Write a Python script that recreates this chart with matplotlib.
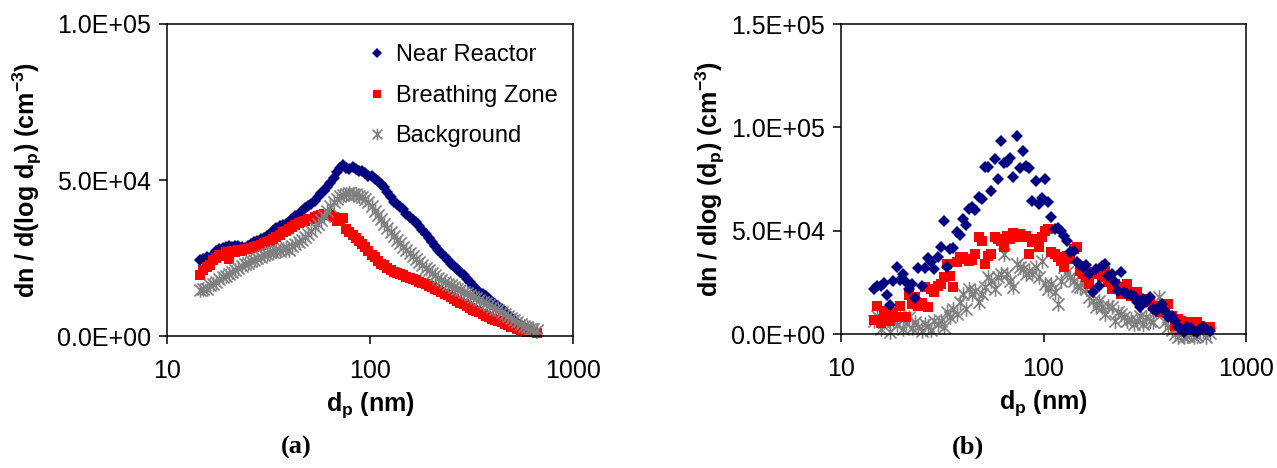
import numpy as np
import matplotlib
matplotlib.use("Agg")
import matplotlib.pyplot as plt
from matplotlib.path import Path
from matplotlib.ticker import FixedLocator, FuncFormatter, NullLocator

plt.rcParams['font.family'] = ['Liberation Sans', 'DejaVu Sans']
plt.rcParams['mathtext.fontset'] = 'custom'
plt.rcParams['mathtext.rm'] = 'Liberation Sans'
plt.rcParams['mathtext.bf'] = 'Liberation Sans:bold'
plt.rcParams['mathtext.it'] = 'Liberation Sans:italic'
plt.rcParams['mathtext.default'] = 'bf'

# particle diameter channels (nm)
dp = [14.6, 15.1, 15.7, 16.3, 16.8, 17.5, 18.1, 18.8, 19.5, 20.2,
      20.9, 21.7, 22.5, 23.3, 24.1, 25.0, 25.9, 26.9, 27.9, 28.9,
      30.0, 31.1, 32.2, 33.4, 34.6, 35.9, 37.2, 38.5, 40.0, 41.4,
      42.9, 44.5, 46.1, 47.8, 49.6, 51.4, 53.3, 55.2, 57.3, 59.4,
      61.5, 63.8, 66.1, 68.5, 71.0, 73.7, 76.4, 79.1, 82.0, 85.1,
      88.2, 91.4, 94.7, 98.2, 101.8, 105.5, 109.4, 113.4, 117.6, 121.9,
      126.3, 131.0, 135.8, 140.7, 145.9, 151.2, 156.8, 162.5, 168.5, 174.7,
      181.1, 187.7, 194.6, 201.7, 209.1, 216.7, 224.7, 232.9, 241.4, 250.3,
      259.5, 269.0, 278.8, 289.0, 299.6, 310.6, 322.0, 333.8, 346.0, 358.7,
      371.8, 385.4, 399.5, 414.2, 429.4, 445.1, 461.4, 478.3, 495.8, 514.0,
      532.8, 552.3, 572.5, 593.5, 615.3, 637.8, 661.2]

# panel (a) values, thousands of particles / cm3
near_a = [24.2, 24.8, 25.4, 25.0, 26.0, 27.4, 27.8, 28.2, 28.6, 28.8,
          28.6, 29.0, 28.8, 28.4, 28.2, 29.0, 29.6, 30.2, 30.6, 31.0,
          31.5, 32.2, 32.8, 33.6, 34.6, 35.2, 35.6, 36.0, 36.6, 37.6,
          38.4, 39.0, 40.0, 41.0, 41.6, 42.4, 43.2, 44.6, 45.8, 46.6,
          47.6, 49.0, 50.6, 52.6, 53.8, 54.8, 54.0, 53.6, 54.2, 53.4,
          52.8, 53.0, 52.2, 51.4, 51.2, 50.2, 49.6, 48.6, 47.8, 46.0,
          44.6, 43.0, 42.2, 41.4, 40.6, 39.0, 38.0, 37.2, 36.4, 35.4,
          34.0, 32.8, 31.4, 30.0, 28.8, 27.6, 26.6, 25.4, 24.4, 23.2,
          22.4, 21.4, 20.4, 19.4, 18.4, 17.2, 16.0, 15.0, 14.2, 13.6,
          12.8, 12.0, 11.0, 10.2, 9.6, 8.6, 7.6, 6.8, 5.8, 5.0,
          4.2, 3.4, 2.8, 2.2, 1.8, 1.4, 1.0]
breath_a = [19.4, 21.0, 22.2, 22.6, 24.4, 25.0, 26.0, 25.6, 27.0, 24.6,
            27.2, 27.0, 27.6, 27.2, 27.8, 28.0, 28.2, 28.6, 28.8, 29.2,
            29.8, 30.2, 30.6, 31.2, 31.8, 32.4, 33.2, 33.8, 34.4, 35.0,
            35.6, 36.2, 36.6, 37.0, 37.4, 37.6, 38.0, 38.4, 38.8, 39.0,
            39.2, 38.8, 38.2, 36.8, 37.6, 37.8, 34.2, 33.4, 32.4, 31.4,
            30.6, 29.4, 28.4, 27.2, 26.0, 25.2, 24.0, 23.2, 22.6, 21.8,
            21.2, 20.6, 20.2, 19.8, 19.4, 19.0, 18.6, 18.2, 17.8, 17.4,
            17.0, 16.6, 16.0, 15.6, 15.0, 14.6, 14.0, 13.6, 13.0, 12.4,
            11.8, 11.2, 10.6, 10.2, 9.6, 9.0, 8.4, 8.0, 7.6, 7.0,
            6.4, 6.0, 5.4, 5.0, 4.8, 4.4, 3.8, 3.4, 3.0, 2.8,
            2.4, 2.0, 1.8, 1.4, 1.2, 1.2, 1.0]
backg_a = [14.6, 15.2, 15.0, 16.2, 16.8, 17.4, 18.2, 18.8, 19.2, 20.0,
           20.6, 21.2, 21.8, 22.4, 23.0, 23.4, 24.0, 24.4, 25.0, 25.4,
           26.0, 26.2, 26.8, 27.0, 27.4, 27.2, 27.8, 28.2, 27.6, 28.8,
           29.6, 30.0, 30.8, 31.6, 32.6, 33.6, 34.8, 35.8, 37.2, 38.6,
           40.2, 41.6, 43.0, 44.0, 44.8, 45.2, 45.6, 45.8, 45.4, 45.6,
           44.8, 44.4, 43.8, 42.8, 41.6, 40.2, 38.8, 37.4, 36.0, 34.6,
           33.4, 32.2, 30.8, 29.8, 28.6, 27.6, 26.6, 25.6, 24.6, 23.6,
           22.8, 21.8, 21.0, 20.2, 19.4, 18.6, 18.0, 17.4, 16.8, 16.2,
           15.8, 15.2, 14.8, 14.2, 13.8, 13.2, 12.6, 12.2, 11.6, 11.0,
           10.6, 10.0, 9.4, 8.8, 8.2, 7.6, 7.0, 6.4, 5.8, 5.0,
           4.4, 3.8, 3.2, 2.8, 2.4, 2.2, 2.0]

# panel (b) values, thousands of particles / cm3
near_b = [21.8, 23.0, 23.4, 24.5, 19.0, 14.2, 25.8, 32.6, 26.1, 29.0,
          25.0, 21.8, 24.2, 17.3, 31.9, 23.1, 31.9, 36.8, 34.7, 31.5,
          37.4, 42.3, 54.8, 32.3, 41.1, 41.6, 49.2, 48.0, 55.6, 52.9,
          60.5, 61.3, 60.0, 66.5, 65.3, 80.6, 80.6, 69.4, 84.7, 75.0,
          93.6, 82.6, 83.1, 85.0, 75.8, 95.7, 80.3, 88.4, 81.5, 80.5,
          64.5, 74.2, 62.9, 65.8, 75.0, 63.7, 56.5, 50.8, 51.3, 50.0,
          47.6, 45.2, 39.5, 40.3, 34.7, 33.5, 32.3, 33.5, 29.0, 20.2,
          31.5, 23.4, 33.1, 34.0, 28.2, 29.0, 25.0, 21.0, 29.8, 20.2,
          19.4, 19.0, 18.5, 15.3, 12.9, 16.9, 15.3, 17.7, 12.1, 11.3,
          12.9, 14.5, 11.3, 8.1, 8.9, 6.5, 3.2, 2.4, 0.8, 3.2,
          2.9, 1.6, 0.8, 2.4, 3.2, 2.4, 1.6]
breath_b = [6.9, 13.7, 5.2, 10.0, 11.3, 6.5, 10.5, 8.1, 13.7, 8.4,
            8.1, 19.0, 14.5, 17.7, 13.7, 14.8, 22.6, 12.9, 21.8, 20.2,
            23.4, 24.2, 27.4, 33.9, 28.2, 22.6, 34.7, 37.1, 37.1, 36.3,
            35.5, 35.8, 38.7, 46.8, 44.8, 33.9, 37.9, 38.7, 46.8, 46.0,
            44.8, 42.3, 47.6, 46.0, 48.7, 46.8, 48.4, 47.1, 47.6, 38.7,
            44.4, 46.0, 41.9, 46.8, 50.0, 50.8, 39.5, 38.7, 37.1, 35.5,
            32.3, 37.9, 36.3, 41.1, 41.9, 30.6, 29.0, 27.4, 24.2, 29.8,
            29.0, 30.6, 27.4, 30.6, 25.0, 21.8, 24.2, 22.6, 19.4, 21.0,
            24.2, 18.5, 19.4, 20.2, 16.1, 16.9, 15.3, 15.3, 13.7, 12.9,
            12.1, 10.5, 11.3, 14.5, 8.9, 4.0, 7.3, 6.5, 4.8, 5.6,
            4.8, 4.8, 5.6, 4.0, 3.2, 2.4, 3.2]
backg_b = [6.5, 8.9, 2.4, 5.6, 8.1, 1.0, 6.5, 4.5, 8.1, 2.4,
           5.2, 8.1, 3.0, 5.6, 3.2, 1.5, 4.8, 4.0, 2.0, 6.5,
           4.8, 6.5, 3.5, 10.5, 8.1, 12.1, 9.7, 15.3, 19.4, 12.0,
           21.8, 19.4, 21.0, 15.3, 19.4, 22.6, 27.4, 25.8, 21.8, 27.4,
           29.0, 38.7, 29.0, 25.8, 22.6, 33.9, 32.3, 31.5, 29.0, 30.6,
           29.0, 32.3, 27.4, 35.5, 24.2, 21.8, 24.2, 20.2, 14.5, 25.8,
           32.3, 29.8, 27.4, 25.8, 23.4, 22.6, 25.8, 21.8, 17.7, 16.1,
           12.9, 16.1, 12.9, 9.7, 13.7, 12.9, 6.5, 10.5, 9.7, 8.1,
           6.5, 7.3, 4.8, 6.5, 8.9, 4.8, 8.1, 6.5, 6.0, 11.0,
           17.7, 12.9, 5.6, 3.2, 2.0, 0.0, -1.6, 0.0, -1.6, -0.8,
           0.0, -1.6, -0.8, 0.8, 1.6, -1.6, 0.5]

series_names = ["Near Reactor", "Breathing Zone", "Background"]
xticks = [10, 100, 1000]
yticks_a = [0, 5e4, 1e5]
yticks_b = [0, 5e4, 1e5, 1.5e5]

# asterisk marker (X plus vertical bar), as in the spreadsheet chart
star = Path([(-1, -1), (1, 1), (-1, 1), (1, -1), (0, -1.2), (0, 1.2)],
            [Path.MOVETO, Path.LINETO, Path.MOVETO, Path.LINETO, Path.MOVETO, Path.LINETO])

NAVY = "#000080"
RED = "#FF0000"
GRAY = "#808080"
FS = 18

fig = plt.figure(figsize=(12.77, 4.68), dpi=100)
ax1 = fig.add_axes([167/1277, 132/468, 406/1277, 312/468])
ax2 = fig.add_axes([841/1277, 134/468, 405/1277, 310/468])

x = np.array(dp)
k = 1e3


def style_axis(ax, yticks, ylim):
    ax.set_xscale("log")
    ax.set_xlim(10, 1000)
    ax.set_ylim(*ylim)
    ax.xaxis.set_major_locator(FixedLocator(xticks))
    ax.xaxis.set_minor_locator(NullLocator())
    ax.xaxis.set_major_formatter(FuncFormatter(lambda v, p: f"{v:.0f}"))
    ax.yaxis.set_major_locator(FixedLocator(yticks))
    ax.yaxis.set_major_formatter(FuncFormatter(lambda v, p: f"{v:.1E}"))
    for s in ax.spines.values():
        s.set_linewidth(1.1)
        s.set_color("black")
    ax.tick_params(axis="both", direction="out", length=5.5, width=1.1,
                   labelsize=FS, colors="black")
    ax.tick_params(axis="x", pad=11)
    ax.tick_params(axis="y", pad=6)
    ax.set_xlabel(r"d$_\mathbf{p}$ (nm)", fontsize=FS, fontweight="bold", labelpad=5)


MS_D, MS_S, MS_X = 5.8, 6.6, 10.5

# panel (a)
ax1.plot(x, np.array(near_a) * k, linestyle="none", marker="D", ms=MS_D,
         color=NAVY, mec=NAVY, mew=0, label=series_names[0], clip_on=False)
ax1.plot(x, np.array(breath_a) * k, linestyle="none", marker="s", ms=MS_S,
         color=RED, mec=RED, mew=0, label=series_names[1], clip_on=False)
ax1.plot(x, np.array(backg_a) * k, linestyle="none", marker=star, ms=MS_X,
         mew=1.2, color=GRAY, mec=GRAY, label=series_names[2], clip_on=False)
style_axis(ax1, yticks_a, (0, 1e5))
ax1.set_ylabel(r"dn / d(log d$_\mathbf{p}$) (cm$^\mathbf{-3}$)",
               fontsize=FS, fontweight="bold", labelpad=9)
leg = ax1.legend(loc="upper left", bbox_to_anchor=(0.47, 0.965), frameon=False,
                 fontsize=17, handlelength=0.8, handletextpad=0.4,
                 labelspacing=0.78, borderaxespad=0.0, markerscale=0.8)

# panel (b)
ax2.plot(x, np.array(backg_b) * k, linestyle="none", marker=star, ms=MS_X,
         mew=1.2, color=GRAY, mec=GRAY, clip_on=False)
ax2.plot(x, np.array(breath_b) * k, linestyle="none", marker="s", ms=MS_S,
         color=RED, mec=RED, mew=0, clip_on=False)
ax2.plot(x, np.array(near_b) * k, linestyle="none", marker="D", ms=MS_D,
         color=NAVY, mec=NAVY, mew=0, clip_on=False)
style_axis(ax2, yticks_b, (0, 1.5e5))
ax2.set_ylabel(r"dn / dlog (d$_\mathbf{p}$) (cm$^\mathbf{-3}$)",
               fontsize=FS, fontweight="bold", labelpad=3)

# panel captions
fig.text(296/1277, 1 - 447/468, "(a)", fontsize=19, fontweight="bold",
         family="Liberation Serif", ha="center", va="center")
fig.text(968/1277, 1 - 447/468, "(b)", fontsize=19, fontweight="bold",
         family="Liberation Serif", ha="center", va="center")

fig.savefig("out.png", dpi=100)
